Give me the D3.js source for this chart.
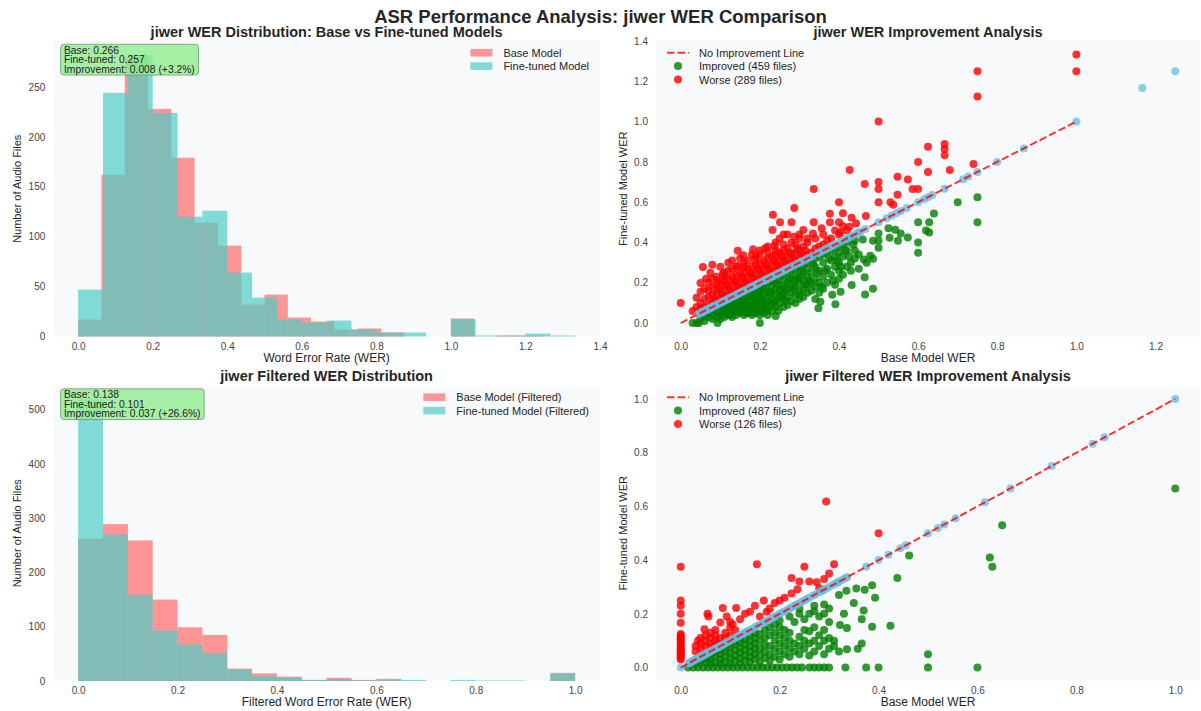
<!DOCTYPE html>
<html>
<head>
<meta charset="utf-8">
<script src="https://cdn.jsdelivr.net/npm/d3@7"></script>
<style>
  body { margin: 0; background: #fff; }
  svg { display: block; font-family: "Liberation Sans", Arial, sans-serif; }
</style>
</head>
<body>
<svg id="fig" width="1201" height="711"></svg>
<script>
// ---------- data ----------
// histogram counts, 20 equal bins from 0 to each series' max
const werBaseMax = 1.25, werFtMax = 4 / 3;
const werBaseCounts = [17, 162, 280, 228, 179, 114, 91, 32, 42, 19, 15, 7, 8, 4, 0, 0, 18, 0, 1, 1];
const werFtCounts   = [47, 244, 282, 224, 120, 126, 64, 39, 17, 14, 16, 7, 4, 4, 0, 17, 1, 1, 3, 1];
const filtBaseMax = 1.0, filtFtMax = 1.0;
const filtBaseCounts = [262, 289, 259, 150, 99, 85, 23, 14, 8, 2, 6, 2, 4, 0, 0, 0, 0, 0, 0, 15];
const filtFtCounts   = [519, 270, 159, 93, 67, 52, 21, 9, 7, 2, 4, 1, 2, 2, 0, 2, 1, 1, 0, 13];

const werStats  = ["Base: 0.266", "Fine-tuned: 0.257", "Improvement: 0.008 (+3.2%)"];
const filtStats = ["Base: 0.138", "Fine-tuned: 0.101", "Improvement: 0.037 (+26.6%)"];

// scatter: [base WER, fine-tuned WER]
const werImproved = [
  [0.03,0],[0.04,0],[0.046,0],[0.093,0],[0.2,0],
  [0.05,0.02],[0.06,0.01],[0.06,0.035],[0.07,0.03],[0.07,0.05],
  [0.08,0.02],[0.08,0.045],[0.08,0.065],[0.09,0.03],[0.09,0.055],[0.09,0.075],
  [0.1,0.02],[0.1,0.04],[0.1,0.06],[0.1,0.085],[0.11,0.03],[0.11,0.05],[0.11,0.07],[0.11,0.095],
  [0.12,0.04],[0.12,0.06],[0.12,0.08],[0.12,0.1],[0.13,0.03],[0.13,0.05],[0.13,0.07],[0.13,0.09],[0.13,0.115],
  [0.14,0.04],[0.14,0.06],[0.14,0.08],[0.14,0.1],[0.14,0.125],[0.15,0.05],[0.15,0.07],[0.15,0.09],[0.15,0.11],[0.15,0.135],
  [0.16,0.04],[0.16,0.06],[0.16,0.08],[0.16,0.1],[0.16,0.12],[0.16,0.145],
  [0.17,0.05],[0.17,0.07],[0.17,0.09],[0.17,0.11],[0.17,0.13],[0.17,0.155],
  [0.18,0.04],[0.18,0.06],[0.18,0.08],[0.18,0.1],[0.18,0.12],[0.18,0.14],[0.18,0.165],
  [0.19,0.05],[0.19,0.07],[0.19,0.09],[0.19,0.11],[0.19,0.13],[0.19,0.15],[0.19,0.175],
  [0.2,0.04],[0.2,0.06],[0.2,0.08],[0.2,0.1],[0.2,0.12],[0.2,0.14],[0.2,0.16],[0.2,0.18],
  [0.21,0.05],[0.21,0.08],[0.21,0.11],[0.21,0.14],[0.21,0.17],[0.21,0.19],
  [0.22,0.04],[0.22,0.07],[0.22,0.1],[0.22,0.13],[0.22,0.16],[0.22,0.2],
  [0.23,0.06],[0.23,0.09],[0.23,0.12],[0.23,0.15],[0.23,0.18],[0.23,0.21],
  [0.24,0.035],[0.247,0.061],[0.24,0.08],[0.24,0.11],[0.24,0.14],[0.24,0.17],[0.24,0.2],[0.24,0.22],
  [0.25,0.1],[0.25,0.13],[0.25,0.16],[0.25,0.19],[0.25,0.23],
  [0.26,0.08],[0.26,0.12],[0.26,0.15],[0.26,0.18],[0.26,0.21],[0.26,0.24],
  [0.27,0.09],[0.27,0.13],[0.27,0.17],[0.27,0.2],[0.27,0.25],
  [0.28,0.11],[0.28,0.15],[0.28,0.19],[0.28,0.22],[0.28,0.26],
  [0.29,0.1],[0.29,0.14],[0.29,0.18],[0.29,0.21],[0.29,0.24],[0.29,0.27],
  [0.3,0.12],[0.3,0.16],[0.3,0.2],[0.3,0.23],[0.3,0.28],
  [0.31,0.13],[0.31,0.17],[0.31,0.21],[0.31,0.25],[0.31,0.29],
  [0.32,0.15],[0.32,0.19],[0.32,0.23],[0.32,0.27],[0.32,0.3],
  [0.33,0.16],[0.33,0.2],[0.33,0.25],[0.33,0.31],
  [0.34,0.12],[0.34,0.18],[0.34,0.22],[0.34,0.28],[0.34,0.32],
  [0.348,0.074],[0.353,0.106],[0.35,0.15],[0.35,0.2],[0.35,0.26],[0.35,0.33],
  [0.36,0.17],[0.36,0.23],[0.36,0.3],[0.36,0.34],[0.37,0.2],[0.37,0.27],[0.37,0.35],
  [0.383,0.141],[0.38,0.24],[0.38,0.31],[0.38,0.36],
  [0.391,0.094],[0.39,0.19],[0.39,0.28],[0.39,0.33],[0.39,0.37],
  [0.404,0.155],[0.4,0.22],[0.4,0.26],[0.4,0.3],[0.4,0.35],[0.4,0.38],
  [0.41,0.24],[0.41,0.33],[0.41,0.39],[0.42,0.28],[0.42,0.36],[0.42,0.4],
  [0.432,0.189],[0.43,0.26],[0.43,0.3],[0.436,0.39],[0.44,0.32],[0.44,0.36],[0.44,0.41],
  [0.45,0.27],[0.45,0.34],[0.46,0.415],[0.463,0.316],[0.465,0.228],[0.466,0.142],
  [0.47,0.3],[0.479,0.334],[0.486,0.319],[0.486,0.17],[0.486,0.409],
  [0.5,0.374],[0.5,0.41],[0.5,0.445],[0.525,0.471],[0.528,0.423],[0.542,0.463],
  [0.549,0.409],[0.556,0.445],[0.574,0.425],[0.6,0.349],[0.6,0.4],[0.6,0.5],
  [0.62,0.46],[0.628,0.45],[0.628,0.5],[0.64,0.544],[0.7,0.6],[0.75,0.5],[0.75,0.625],
  [0.105,0.05],[0.115,0.08],[0.125,0.07],[0.135,0.1],[0.145,0.09],[0.155,0.12],[0.165,0.11],[0.175,0.14],
  [0.185,0.13],[0.195,0.16],[0.205,0.07],[0.215,0.1],[0.225,0.15],[0.235,0.1],[0.245,0.19],[0.255,0.14],
  [0.265,0.17],[0.275,0.22],[0.285,0.17],[0.295,0.22],[0.305,0.26],[0.315,0.19],[0.325,0.21],[0.335,0.29],
  [0.345,0.25],[0.355,0.18],[0.365,0.26],[0.375,0.32],[0.385,0.21],[0.395,0.31],[0.405,0.28],[0.415,0.36],
  [0.425,0.33],[0.145,0.06],[0.165,0.05],[0.185,0.05],[0.125,0.04],[0.215,0.06],[0.265,0.11],[0.3,0.14]
];
const werWorse = [
  [0,0.1],[0.03,0.06],[0.04,0.08],[0.04,0.126],[0.05,0.07],[0.05,0.1],[0.05,0.155],[0.05,0.199],
  [0.06,0.08],[0.06,0.12],[0.06,0.17],[0.064,0.22],[0.056,0.278],
  [0.07,0.09],[0.07,0.13],[0.07,0.16],[0.07,0.2],[0.08,0.1],[0.08,0.14],[0.08,0.18],[0.08,0.22],[0.08,0.29],
  [0.09,0.11],[0.09,0.15],[0.09,0.19],[0.09,0.23],[0.1,0.12],[0.1,0.16],[0.1,0.2],[0.106,0.243],
  [0.11,0.13],[0.11,0.17],[0.11,0.21],[0.11,0.25],[0.12,0.14],[0.12,0.18],[0.12,0.22],[0.12,0.26],
  [0.13,0.15],[0.13,0.19],[0.13,0.23],[0.13,0.27],[0.13,0.31],
  [0.14,0.16],[0.14,0.2],[0.14,0.24],[0.14,0.28],[0.144,0.359],
  [0.15,0.17],[0.15,0.21],[0.15,0.25],[0.145,0.283],[0.15,0.32],
  [0.16,0.18],[0.16,0.22],[0.16,0.26],[0.16,0.3],[0.158,0.336],
  [0.17,0.19],[0.17,0.23],[0.17,0.27],[0.17,0.31],
  [0.18,0.2],[0.18,0.24],[0.18,0.28],[0.188,0.316],[0.183,0.366],
  [0.19,0.21],[0.19,0.25],[0.19,0.29],[0.19,0.33],[0.2,0.22],[0.2,0.26],[0.2,0.3],[0.2,0.34],
  [0.21,0.23],[0.21,0.27],[0.21,0.31],[0.213,0.37],[0.22,0.24],[0.22,0.28],[0.22,0.32],[0.22,0.35],
  [0.23,0.25],[0.23,0.29],[0.23,0.33],[0.237,0.382],[0.232,0.462],[0.233,0.538],
  [0.24,0.26],[0.24,0.3],[0.24,0.34],[0.24,0.4],[0.25,0.27],[0.25,0.31],[0.25,0.35],[0.251,0.5],[0.25,0.42],
  [0.26,0.28],[0.26,0.32],[0.26,0.36],[0.26,0.39],[0.27,0.29],[0.27,0.33],[0.27,0.37],[0.27,0.44],
  [0.28,0.3],[0.28,0.34],[0.28,0.5],[0.287,0.571],[0.287,0.428],[0.29,0.31],[0.29,0.35],[0.29,0.39],[0.3,0.42],
  [0.3,0.32],[0.3,0.36],[0.31,0.33],[0.31,0.38],[0.31,0.462],
  [0.32,0.34],[0.32,0.4],[0.33,0.35],[0.334,0.445],[0.336,0.5],[0.336,0.665],
  [0.34,0.37],[0.34,0.42],[0.35,0.38],[0.356,0.47],[0.36,0.39],[0.36,0.44],
  [0.37,0.41],[0.377,0.5],[0.377,0.543],[0.38,0.42],[0.39,0.46],
  [0.4,0.44],[0.403,0.45],[0.4,0.5],[0.4,0.6],[0.41,0.545],[0.41,0.48],
  [0.42,0.46],[0.426,0.478],[0.432,0.523],[0.427,0.76],[0.443,0.494],[0.465,0.69],[0.468,0.531],
  [0.5,0.6],[0.5,0.665],[0.5,0.7],[0.5,1.0],[0.53,0.6],[0.537,0.587],[0.548,0.637],[0.548,0.726],
  [0.574,0.713],[0.586,0.665],[0.6,0.665],[0.6,0.8],[0.625,0.75],[0.625,0.875],
  [0.667,0.833],[0.667,0.864],[0.667,0.889],[0.68,0.76],[0.74,0.79],
  [0.75,1.125],[0.75,1.25],[1.0,1.25],[1.0,1.333],
  [0.085,0.12],[0.095,0.17],[0.105,0.14],[0.115,0.19],[0.125,0.16],[0.135,0.21],[0.145,0.18],[0.155,0.23],
  [0.165,0.2],[0.175,0.25],[0.185,0.22],[0.195,0.27],[0.205,0.24],[0.215,0.29],[0.225,0.26],[0.235,0.31],
  [0.245,0.28],[0.255,0.33],[0.265,0.3],[0.275,0.35],[0.285,0.32],[0.295,0.37],[0.305,0.34],[0.315,0.36],
  [0.1,0.28],[0.12,0.3],[0.16,0.28],[0.2,0.36],[0.24,0.36],[0.28,0.4],[0.3,0.44],[0.32,0.42],[0.26,0.44],
  [0.22,0.38],[0.18,0.34],[0.075,0.25],[0.11,0.23],[0.095,0.21]
];
// unchanged files: base == fine-tuned
const werSame = [0.045,0.05,0.053,0.056,0.059,0.0625,0.0645,0.067,0.069,0.071,0.074,0.077,0.08,0.083,0.087,0.091,
  0.095,0.1,0.105,0.108,0.111,0.115,0.118,0.121,0.125,0.129,0.133,0.136,0.14,0.143,0.147,0.15,0.154,0.158,0.16,
  0.167,0.171,0.176,0.179,0.182,0.185,0.188,0.19,0.195,0.2,0.208,0.212,0.214,0.217,0.222,0.227,0.231,0.235,0.24,
  0.245,0.25,0.255,0.26,0.263,0.267,0.273,0.278,0.286,0.294,0.3,0.304,0.308,0.316,0.32,0.327,0.333,0.345,0.35,
  0.357,0.364,0.368,0.375,0.38,0.385,0.39,0.4,0.409,0.417,0.42,0.429,0.435,0.444,0.45,0.455,0.467,0.5,0.52,0.533,
  0.545,0.556,0.571,0.6,0.615,0.625,0.636,0.667,0.714,0.727,0.75,0.8,0.867,1.0,1.1667,1.25];

const filtImproved = [
  [0.015,0],[0.025,0],[0.035,0],[0.045,0],[0.055,0],[0.065,0],[0.075,0],[0.085,0],[0.095,0],[0.105,0],
  [0.115,0],[0.125,0],[0.135,0],[0.145,0],[0.155,0],[0.165,0],[0.175,0],[0.185,0],[0.195,0],[0.205,0],
  [0.215,0],[0.225,0],[0.235,0],[0.245,0],[0.26,0],[0.27,0],[0.28,0],[0.29,0],[0.3,0],
  [0.333,0],[0.375,0],[0.4,0],[0.5,0],[0.6,0],
  [0.03,0.015],[0.04,0.02],[0.04,0.03],[0.05,0.02],[0.05,0.035],[0.06,0.015],[0.06,0.03],[0.06,0.045],
  [0.07,0.02],[0.07,0.04],[0.07,0.055],[0.08,0.015],[0.08,0.03],[0.08,0.05],[0.08,0.065],
  [0.09,0.02],[0.09,0.04],[0.09,0.06],[0.09,0.075],[0.1,0.015],[0.1,0.035],[0.1,0.055],[0.1,0.075],[0.1,0.09],
  [0.11,0.025],[0.11,0.045],[0.11,0.065],[0.11,0.085],[0.11,0.1],
  [0.12,0.015],[0.12,0.035],[0.12,0.055],[0.12,0.075],[0.12,0.095],[0.12,0.11],
  [0.13,0.025],[0.13,0.045],[0.13,0.065],[0.13,0.085],[0.13,0.105],
  [0.14,0.02],[0.14,0.04],[0.14,0.06],[0.14,0.08],[0.14,0.1],[0.14,0.12],
  [0.15,0.03],[0.15,0.05],[0.15,0.07],[0.15,0.09],[0.15,0.11],[0.15,0.13],
  [0.16,0.02],[0.16,0.045],[0.16,0.07],[0.16,0.1],[0.16,0.125],
  [0.17,0.035],[0.17,0.06],[0.17,0.085],[0.17,0.11],[0.17,0.14],
  [0.18,0.025],[0.18,0.05],[0.18,0.08],[0.18,0.12],[0.18,0.15],
  [0.19,0.04],[0.19,0.07],[0.19,0.1],[0.19,0.13],[0.19,0.16],
  [0.2,0.03],[0.2,0.06],[0.2,0.09],[0.2,0.12],[0.2,0.15],[0.2,0.175],
  [0.21,0.05],[0.21,0.08],[0.21,0.11],[0.21,0.14],[0.22,0.04],[0.22,0.07],[0.22,0.1],[0.22,0.13],[0.22,0.19],
  [0.23,0.06],[0.23,0.09],[0.23,0.17],[0.24,0.05],[0.24,0.08],[0.24,0.115],[0.24,0.2],[0.24,0.22],
  [0.25,0.07],[0.25,0.1],[0.25,0.14],[0.25,0.18],[0.26,0.045],[0.26,0.09],[0.26,0.135],[0.26,0.2],
  [0.27,0.06],[0.27,0.1],[0.27,0.15],[0.27,0.21],[0.27,0.23],[0.28,0.08],[0.28,0.12],[0.28,0.19],
  [0.29,0.05],[0.29,0.1],[0.29,0.14],[0.29,0.2],[0.29,0.235],[0.3,0.07],[0.3,0.11],[0.3,0.17],[0.3,0.22],
  [0.31,0.08],[0.31,0.1],[0.32,0.06],[0.322,0.158],[0.32,0.27],
  [0.336,0.068],[0.336,0.147],[0.335,0.286],[0.33,0.2],[0.355,0.294],[0.358,0.07],[0.35,0.24],
  [0.366,0.09],[0.366,0.18],[0.37,0.212],[0.372,0.29],[0.387,0.306],[0.387,0.152],[0.393,0.26],
  [0.424,0.156],[0.438,0.333],[0.462,0.417],
  [0.5,0.05],[0.625,0.41],[0.63,0.375],[0.65,0.53],[1.0,0.667]
];
const filtWorse = [
  [0,0.03],[0,0.037],[0,0.043],[0,0.05],[0,0.056],[0,0.0625],[0,0.067],[0,0.071],[0,0.077],[0,0.083],
  [0,0.091],[0,0.1],[0,0.105],[0,0.111],[0,0.118],[0,0.125],[0,0.167],[0,0.2],[0,0.23],[0,0.25],[0,0.375],
  [0.03,0.06],[0.03,0.08],[0.035,0.1],[0.04,0.07],[0.04,0.09],[0.04,0.11],[0.05,0.08],[0.05,0.1],[0.05,0.12],
  [0.048,0.143],[0.054,0.2],[0.056,0.19],[0.06,0.09],[0.06,0.11],[0.06,0.13],[0.065,0.08],
  [0.07,0.1],[0.07,0.12],[0.07,0.14],[0.075,0.09],[0.08,0.11],[0.08,0.168],[0.085,0.222],
  [0.09,0.11],[0.09,0.13],[0.093,0.19],[0.1,0.12],[0.1,0.15],[0.1,0.17],[0.105,0.16],[0.11,0.14],[0.112,0.222],
  [0.12,0.18],[0.13,0.2],[0.14,0.208],[0.15,0.23],[0.154,0.385],[0.16,0.19],[0.168,0.25],[0.174,0.208],
  [0.18,0.22],[0.19,0.24],[0.2,0.25],[0.21,0.26],[0.224,0.276],[0.224,0.333],[0.236,0.292],[0.24,0.32],
  [0.25,0.375],[0.26,0.32],[0.275,0.318],[0.28,0.295],[0.29,0.33],[0.294,0.618],[0.3,0.35],[0.31,0.385],[0.4,0.5]
];
const filtSame = [0,0.015,0.0175,0.02,0.022,0.025,0.028,0.03,0.033,0.035,0.038,0.04,0.043,0.045,0.048,0.05,0.053,
  0.056,0.059,0.0625,0.067,0.071,0.074,0.077,0.08,0.083,0.087,0.091,0.095,0.1,0.105,0.108,0.111,0.115,0.118,0.121,
  0.125,0.129,0.133,0.137,0.143,0.15,0.154,0.16,0.167,0.171,0.176,0.182,0.188,0.192,0.2,0.205,0.21,0.217,0.222,
  0.227,0.231,0.235,0.24,0.245,0.25,0.255,0.26,0.267,0.273,0.28,0.286,0.29,0.294,0.3,0.308,0.313,0.318,0.32,0.327,
  0.333,0.337,0.375,0.4,0.42,0.444,0.455,0.5,0.52,0.533,0.556,0.615,0.667,0.75,0.833,0.857,1.0];

// ---------- figure ----------
const svg = d3.select("#fig");
const RED = "#FF6B6B", TEAL = "#4ECDC4", SAME = "#62bce3";
const INK = "#262626", TICK = "#444";

svg.append("text")
  .attr("x", 600.5).attr("y", 16).attr("text-anchor", "middle").attr("dominant-baseline", "central")
  .style("font-size", "18.5px").style("font-weight", "bold").style("fill", INK)
  .text("ASR Performance Analysis: jiwer WER Comparison");

function makePanel(box, xDom, yDom, xTicks, yTicks, yFmt, title, xLabel, yLabel) {
  const x = d3.scaleLinear().domain(xDom).range([box.x0, box.x1]);
  const y = d3.scaleLinear().domain(yDom).range([box.y1, box.y0]);
  svg.append("rect").attr("x", box.x0).attr("y", box.y0)
    .attr("width", box.x1 - box.x0).attr("height", box.y1 - box.y0).attr("fill", "#f8f9fa");

  svg.append("g").attr("transform", `translate(0,${box.y1})`)
    .call(d3.axisBottom(x).tickValues(xTicks).tickFormat(d3.format(".1f")).tickSize(0).tickPadding(6))
    .call(ax => {
      ax.select(".domain").remove();
      ax.selectAll(".tick text").style("fill", TICK).style("font-size", "10px").style("font-family", "inherit");
    });
  svg.append("g").attr("transform", `translate(${box.x0},0)`)
    .call(d3.axisLeft(y).tickValues(yTicks).tickFormat(yFmt).tickSize(0).tickPadding(8))
    .call(ax => {
      ax.select(".domain").remove();
      ax.selectAll(".tick text").style("fill", TICK).style("font-size", "10px").style("font-family", "inherit");
    });

  const cx = (box.x0 + box.x1) / 2, cy = (box.y0 + box.y1) / 2;
  svg.append("text").attr("x", cx).attr("y", box.y0 - 9.5)
    .attr("text-anchor", "middle").attr("dominant-baseline", "central")
    .style("font-size", "14.5px").style("font-weight", "bold").style("fill", INK).text(title);
  svg.append("text").attr("x", cx).attr("y", box.y1 + 21)
    .attr("text-anchor", "middle").attr("dominant-baseline", "central")
    .style("font-size", "12px").style("fill", INK).text(xLabel);
  svg.append("text").attr("transform", `translate(${box.x0 - (box.x0 < 300 ? 36 : 33)},${cy}) rotate(-90)`)
    .attr("text-anchor", "middle").attr("dominant-baseline", "central")
    .style("font-size", "11px").style("fill", INK).text(yLabel);

  return { x, y, box, g: svg.append("g") };
}

function drawHist(p, counts, max, color) {
  const w = max / counts.length;
  p.g.append("g").selectAll("rect").data(counts).join("rect")
    .attr("x", (d, i) => p.x(i * w))
    .attr("width", (d, i) => p.x((i + 1) * w) - p.x(i * w))
    .attr("y", d => p.y(d))
    .attr("height", d => p.y(0) - p.y(d))
    .attr("fill", color).attr("fill-opacity", 0.7);
}

function statBox(p, lines) {
  const g = svg.append("g");
  const tx = p.box.x0 + 10.7;
  lines.forEach((s, i) => {
    g.append("text").attr("x", tx).attr("y", p.box.y0 + 9 + i * 9.6)
      .attr("dominant-baseline", "central")
      .style("font-size", "10.3px").style("fill", "#222").text(s);
  });
  const bb = g.node().getBBox();
  g.insert("rect", "text")
    .attr("x", tx - 3.3).attr("y", p.box.y0 + 3.3)
    .attr("width", bb.width + 7).attr("height", 30.7).attr("rx", 3)
    .attr("fill", "#90EE90").attr("fill-opacity", 0.8)
    .attr("stroke", "#6f9a6f").attr("stroke-width", 0.8);
}

function histLegend(p, labels, colors) {
  const g = svg.append("g");
  const texts = labels.map((s, i) => g.append("text")
    .attr("y", p.box.y0 + 11.7 + i * 13.4).attr("dominant-baseline", "central")
    .style("font-size", "11px").style("fill", INK).text(s));
  const wMax = d3.max(texts, t => t.node().getComputedTextLength());
  const tx = p.box.x1 - 11 - wMax;
  texts.forEach((t, i) => {
    t.attr("x", tx);
    g.append("rect").attr("x", tx - 33).attr("y", p.box.y0 + 11.7 + i * 13.4 - 3.8)
      .attr("width", 22).attr("height", 7.6).attr("fill", colors[i]).attr("fill-opacity", 0.7);
  });
}

function drawDots(p, pts, color, op) {
  p.g.append("g").selectAll("circle").data(pts).join("circle")
    .attr("cx", d => p.x(d[0])).attr("cy", d => p.y(d[1])).attr("r", 4)
    .attr("fill", color).attr("fill-opacity", op);
}

function diagLine(p) {
  p.g.append("line")
    .attr("x1", p.x(0)).attr("y1", p.y(0)).attr("x2", p.x(1)).attr("y2", p.y(1))
    .attr("stroke", "red").attr("stroke-opacity", 0.8).attr("stroke-width", 2)
    .attr("stroke-dasharray", "7.4,3.2");
}

function scatterLegend(p, nImp, nWorse) {
  const g = svg.append("g");
  const x0 = p.box.x0, y0 = p.box.y0 + 11.7;
  const rows = [`No Improvement Line`, `Improved (${nImp} files)`, `Worse (${nWorse} files)`];
  rows.forEach((s, i) => {
    g.append("text").attr("x", x0 + 43).attr("y", y0 + i * 13.4).attr("dominant-baseline", "central")
      .style("font-size", "11px").style("fill", INK).text(s);
  });
  g.append("line").attr("x1", x0 + 11).attr("x2", x0 + 33).attr("y1", y0).attr("y2", y0)
    .attr("stroke", "red").attr("stroke-opacity", 0.8).attr("stroke-width", 2).attr("stroke-dasharray", "7.4,3.2");
  g.append("circle").attr("cx", x0 + 22).attr("cy", y0 + 13.4).attr("r", 4).attr("fill", "green").attr("fill-opacity", 0.8);
  g.append("circle").attr("cx", x0 + 22).attr("cy", y0 + 26.8).attr("r", 4).attr("fill", "red").attr("fill-opacity", 0.8);
}

const boxTL = { x0: 53.3, x1: 600, y0: 41, y1: 336.5 };
const boxTR = { x0: 656, x1: 1200, y0: 41, y1: 336.5 };
const boxBL = { x0: 53.3, x1: 600, y0: 385.5, y1: 681 };
const boxBR = { x0: 656, x1: 1200, y0: 385.5, y1: 681 };
const t02 = (n) => d3.range(n + 1).map(i => +(i * 0.2).toFixed(1));

// top-left: WER histogram
const pTL = makePanel(boxTL, [-1 / 15, 1.4], [0, 296], t02(7), [0, 50, 100, 150, 200, 250], d3.format("d"),
  "jiwer WER Distribution: Base vs Fine-tuned Models", "Word Error Rate (WER)", "Number of Audio Files");
drawHist(pTL, werBaseCounts, werBaseMax, RED);
drawHist(pTL, werFtCounts, werFtMax, TEAL);
statBox(pTL, werStats);
histLegend(pTL, ["Base Model", "Fine-tuned Model"], [RED, TEAL]);

// top-right: WER scatter
const pTR = makePanel(boxTR, [-0.0625, 1.3125], [-1 / 15, 1.4], t02(6), t02(7), d3.format(".1f"),
  "jiwer WER Improvement Analysis", "Base Model WER", "Fine-tuned Model WER");
drawDots(pTR, werImproved, "green", 0.8);
drawDots(pTR, werWorse, "red", 0.8);
drawDots(pTR, werSame.map(v => [v, v]), SAME, 0.75);
diagLine(pTR);
scatterLegend(pTR, 459, 289);

// bottom-left: filtered histogram
const pBL = makePanel(boxBL, [-0.05, 1.05], [0, 544.5], t02(5), [0, 100, 200, 300, 400, 500], d3.format("d"),
  "jiwer Filtered WER Distribution", "Filtered Word Error Rate (WER)", "Number of Audio Files");
drawHist(pBL, filtBaseCounts, filtBaseMax, RED);
drawHist(pBL, filtFtCounts, filtFtMax, TEAL);
statBox(pBL, filtStats);
histLegend(pBL, ["Base Model (Filtered)", "Fine-tuned Model (Filtered)"], [RED, TEAL]);

// bottom-right: filtered scatter
const pBR = makePanel(boxBR, [-0.05, 1.05], [-0.05, 1.05], t02(5), t02(5), d3.format(".1f"),
  "jiwer Filtered WER Improvement Analysis", "Base Model WER", "Fine-tuned Model WER");
drawDots(pBR, filtImproved, "green", 0.8);
drawDots(pBR, filtWorse, "red", 0.8);
drawDots(pBR, filtSame.map(v => [v, v]), SAME, 0.75);
diagLine(pBR);
scatterLegend(pBR, 487, 126);
</script>
</body>
</html>
